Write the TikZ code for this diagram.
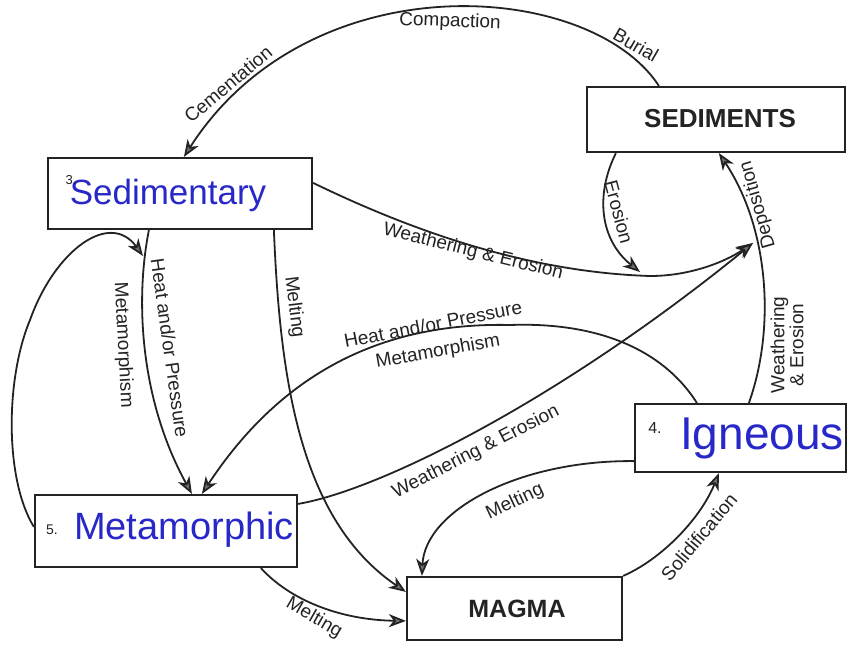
\documentclass[tikz,border=0pt]{standalone}
\usepackage{fontspec}
\setmainfont{Liberation Sans}
\usetikzlibrary{arrows.meta}
\definecolor{pen}{RGB}{40,40,200}
\definecolor{ink}{RGB}{35,35,35}
\definecolor{headgray}{RGB}{115,115,115}
\begin{document}
\begin{tikzpicture}[x=1pt,y=-1pt,
  box/.style={draw=ink, line width=2.2pt, inner sep=0pt, fill=white},
  lbl/.style={font=\fontsize{19}{21}\selectfont, text=ink, inner sep=1pt},
  hand/.style={text=pen, inner sep=0pt},
  num/.style={text=ink, inner sep=0pt},
  conn/.style={draw=ink, line width=1.8pt, -{Stealth[length=17pt,width=13pt,inset=5pt,fill=headgray]}}]
\useasboundingbox[fill=white] (0,0) rectangle (847,646);

% boxes
\node[box, minimum width=258pt, minimum height=65pt] (sedi) at (716,119.5) {};
\node[font=\bfseries\fontsize{26}{28}\selectfont, text=ink] (seditxt) at (720,119) {SEDIMENTS};
\node[box, minimum width=264pt, minimum height=71pt] (sedt) at (180,193.5) {};
\node[box, minimum width=262pt, minimum height=72pt] (meta) at (166,531) {};
\node[box, minimum width=211pt, minimum height=68pt] (ign) at (740.5,438) {};
\node[box, minimum width=215pt, minimum height=63pt] (mag) at (514.5,608.5) {};
\node[font=\bfseries\fontsize{25}{27}\selectfont, text=ink] (magtxt) at (517,609) {MAGMA};

% handwritten names and numbers
\node[hand, font=\fontsize{35}{36}\selectfont] (sedhand) at (168,195) {Sedimentary};
\node[num, font=\fontsize{13}{14}\selectfont] (n3) at (71,180) {3.};
\node[hand, font=\fontsize{38}{40}\selectfont] (methand) at (184,530) {Metamorphic};
\node[num, font=\fontsize{14}{15}\selectfont] (n5) at (52,530) {5.};
\node[hand, font=\fontsize{46}{48}\selectfont] (ighand) at (762,438) {Igneous};
\node[num, font=\fontsize{16}{17}\selectfont] (n4) at (655,428) {4.};

% merge points
\coordinate (wemerge) at (753,243);
\coordinate (eroend) at (640,272);
\coordinate (loopend) at (143,256);

% Burial - Compaction - Cementation
\draw[conn] ([xshift=73pt]sedi.north west) .. controls (590,-20) and (310,-40) .. ([xshift=137pt]sedt.north west);
% Weathering & Erosion from sedimentary
\draw[conn] ([yshift=-26pt]sedt.north east) .. controls (400,225) and (520,272) .. (650,276) .. controls (690,276) and (725,262) .. (wemerge);
% Erosion
\draw[conn] ([xshift=30pt]sedi.south west) .. controls (595,195) and (600,240) .. (eroend);
% Deposition
\draw[conn] ([xshift=115pt]ign.north west) .. controls (775,330) and (770,230) .. ([xshift=133pt]sedi.south west);
% Heat and/or Pressure sedimentary -> metamorphic
\draw[conn] ([xshift=102pt]sedt.south west) .. controls (135,300) and (140,400) .. ([xshift=158pt]meta.north west);
% loop metamorphic -> metamorphism
\draw[conn] ([yshift=-33pt]meta.north west) .. controls (5,480) and (5,380) .. (30,320) .. controls (55,250) and (110,210) .. (loopend);
% Melting sedimentary -> magma
\draw[conn] ([xshift=227pt]sedt.south west) .. controls (280,380) and (300,520) .. ([yshift=-16pt]mag.north west);
% Igneous -> metamorphic
\draw[conn] ([xshift=63pt]ign.north west) .. controls (660,345) and (590,322) .. (510,325) .. controls (380,322) and (280,375) .. ([xshift=168pt]meta.north west);
% Metamorphic -> weathering
\draw[conn] ([yshift=-10pt]meta.north east) .. controls (380,490) and (560,400) .. (wemerge);
% Metamorphic -> magma
\draw[conn] ([xshift=227pt]meta.south west) .. controls (290,600) and (340,620) .. ([yshift=-45pt]mag.north west);
% Igneous -> magma
\draw[conn] ([yshift=12pt]ign.south west) .. controls (520,460) and (425,510) .. ([xshift=16pt]mag.north west);
% Magma -> igneous
\draw[conn] (mag.north east) .. controls (660,560) and (700,520) .. ([xshift=85pt]ign.south west);

% labels
\node[lbl, rotate=40] (lcem) at (228,84) {Cementation};
\node[lbl, rotate=-2] (lcomp) at (450,22) {Compaction};
\node[lbl, rotate=-30] (lbur) at (636,45) {Burial};
\node[lbl, rotate=-14] (lwe1) at (473,252) {Weathering \& Erosion};
\node[lbl, rotate=-75] (lero) at (619,212) {Erosion};
\node[lbl, rotate=106] (ldep) at (758,205) {Deposition};
\node[lbl, rotate=90, align=center, font=\fontsize{19}{19}\selectfont] (lwe2) at (787,345) {Weathering\\\& Erosion};
\node[lbl, rotate=-82] (lhp1) at (170,348) {Heat and/or Pressure};
\node[lbl, rotate=-87] (lmet1) at (123,345) {Metamorphism};
\node[lbl, rotate=-83] (lmel1) at (294,307) {Melting};
\node[lbl, rotate=11] (lhp2) at (433,324) {Heat and/or Pressure};
\node[lbl, rotate=10] (lmet2) at (438,352) {Metamorphism};
\node[lbl, rotate=27] (lwe3) at (476,452) {Weathering \& Erosion};
\node[lbl, rotate=-30] (lmel2) at (314,618) {Melting};
\node[lbl, rotate=25] (lmel3) at (515,502) {Melting};
\node[lbl, rotate=50] (lsol) at (699,537) {Solidification};
\end{tikzpicture}
\end{document}
